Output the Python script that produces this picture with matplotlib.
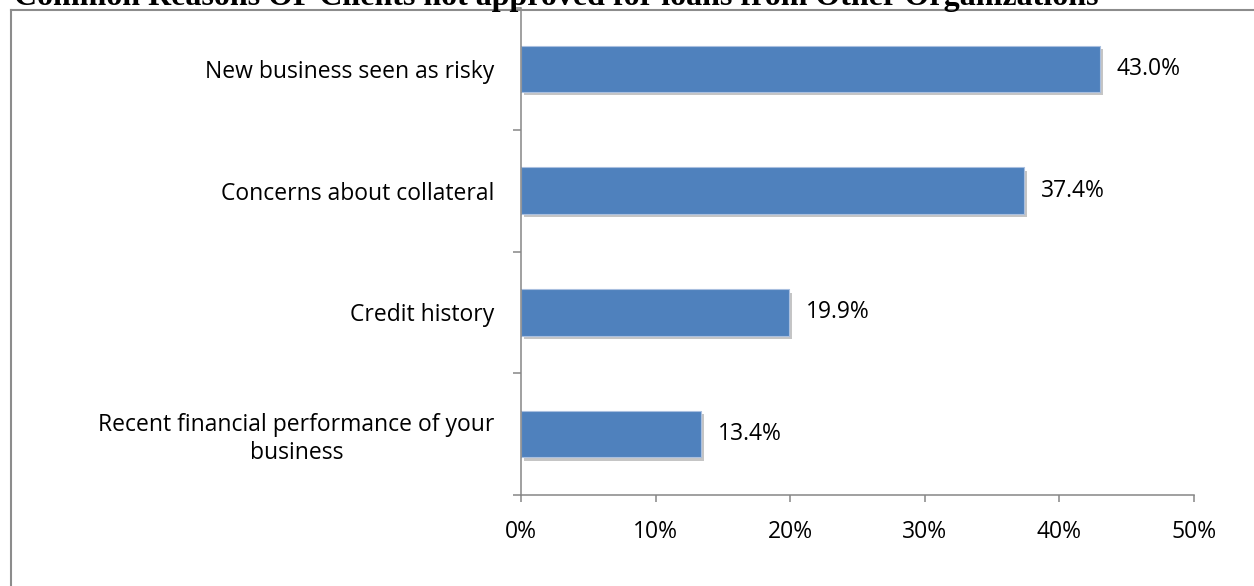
import matplotlib.pyplot as plt
import matplotlib.patheffects as pe
from matplotlib.lines import Line2D
import numpy as np

# Reasons and share of clients, top to bottom
reasons = [
    "New business seen as risky",
    "Concerns about collateral",
    "Credit history",
    "Recent financial performance of your\nbusiness",
]
shares = [43.0, 37.4, 19.9, 13.4]
x_ticks = [0, 10, 20, 30, 40, 50]
x_tick_labels = ["0%", "10%", "20%", "30%", "40%", "50%"]
title = "Common Reasons OF Clients not approved for loans from Other Organizations"

W, H = 1254, 586
fig = plt.figure(figsize=(W / 100, H / 100), dpi=100)
plt.rcParams["font.family"] = ["Open Sans", "DejaVu Sans"]

axis_grey = "#868686"
bar_blue = "#4F81BD"
fs = 16.5

ax = fig.add_axes([521 / W, 1 - 495 / H, (1194 - 521) / W, (495 - 8) / H])

ypos = np.arange(len(reasons))
bars = ax.barh(ypos, shares, height=0.38, color=bar_blue,
               edgecolor="#a9bfdf", linewidth=0.8)
for b in bars:
    b.set_path_effects([pe.SimplePatchShadow(offset=(2, -2.5), shadow_rgbFace="#7f7f7f", alpha=0.45),
                        pe.Normal()])

for y, v in zip(ypos, shares):
    ax.annotate(f"{v:.1f}%", (v, y), xytext=(12, 0), textcoords="offset points",
                ha="left", va="center", fontsize=fs, color="black")

ax.set_xlim(0, 50)
ax.set_ylim(len(reasons) - 0.5, -0.5)
ax.set_xticks(x_ticks)
ax.set_xticklabels(x_tick_labels, fontsize=fs)

# category boundaries get the tick marks, centres carry the labels
ax.set_yticks(np.arange(len(reasons) + 1) - 0.5)
ax.set_yticklabels([])
ax.set_yticks(ypos, minor=True)
ax.set_yticklabels(reasons, minor=True, fontsize=fs, multialignment="center")
ax.tick_params(axis="y", which="minor", length=0, pad=19)
ax.tick_params(axis="y", which="major", length=6, width=1.1, color=axis_grey, direction="out")
ax.tick_params(axis="x", length=5, width=1.1, color=axis_grey, direction="out", pad=13)

for s in ["top", "right"]:
    ax.spines[s].set_visible(False)
for s in ["left", "bottom"]:
    ax.spines[s].set_color(axis_grey)
    ax.spines[s].set_linewidth(1.1)

# outer chart border
fig.add_artist(Line2D([11 / W, 1.0], [1 - 10 / H, 1 - 10 / H], color="#8c8c8c", lw=1.5,
                      transform=fig.transFigure))
fig.add_artist(Line2D([11 / W, 11 / W], [1 - 10 / H, 0.0], color="#8c8c8c", lw=1.5,
                      transform=fig.transFigure))

fig.text(14 / W, 1 - 5 / H, title, ha="left", va="baseline", fontsize=23,
         fontweight="bold", family="Liberation Serif")

fig.savefig("out.png", dpi=100)
